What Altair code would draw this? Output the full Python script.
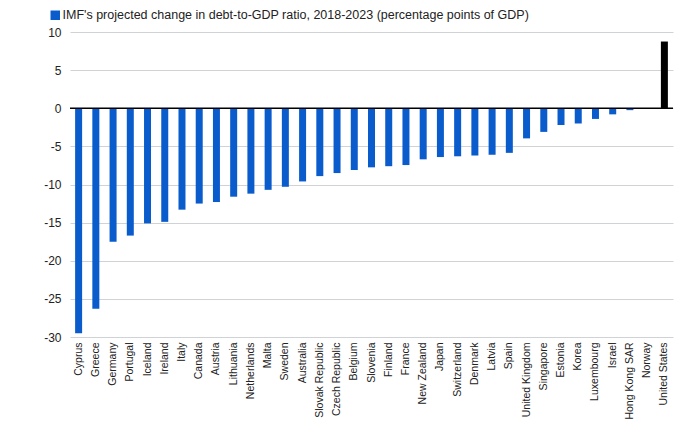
import altair as alt
import pandas as pd

countries = ["Cyprus", "Greece", "Germany", "Portugal", "Iceland", "Ireland", "Italy",
             "Canada", "Austria", "Lithuania", "Netherlands", "Malta", "Sweden",
             "Australia", "Slovak Republic", "Czech Republic", "Belgium", "Slovenia",
             "Finland", "France", "New Zealand", "Japan", "Switzerland", "Denmark",
             "Latvia", "Spain", "United Kingdom", "Singapore", "Estonia", "Korea",
             "Luxembourg", "Israel", "Hong Kong SAR", "Norway", "United States"]
values = [-29.5, -26.3, -17.5, -16.7, -15.1, -14.9, -13.3,
          -12.5, -12.3, -11.6, -11.2, -10.7, -10.3,
          -9.6, -8.9, -8.5, -8.1, -7.75,
          -7.6, -7.45, -6.7, -6.4, -6.3, -6.2,
          -6.1, -5.85, -3.95, -3.1, -2.2, -2.0,
          -1.4, -0.8, -0.25, 0.0, 8.75]
series_label = "IMF's projected change in debt-to-GDP ratio, 2018-2023 (percentage points of GDP)"
y_ticks = [10, 5, 0, -5, -10, -15, -20, -25, -30]

df = pd.DataFrame({
    "country": countries,
    "value": values,
    "series": [series_label if c != "United States" else "US" for c in countries],
})

FONT = "Liberation Sans"

x_enc = alt.X("country:N", sort=countries, title=None,
              scale=alt.Scale(paddingInner=0.54, paddingOuter=0.27),
              axis=alt.Axis(labelAngle=-90, labelFontSize=10.5, labelColor="#222",
                            labelFont=FONT, ticks=False, domain=False, grid=False,
                            labelPadding=5, labelBaseline="middle", labelOverlap=False))
y_axis = alt.Axis(values=y_ticks, labelFontSize=12, labelColor="#222",
                  labelFont=FONT, ticks=False, domain=False,
                  labelExpr="'' + datum.value", labelOverlap=False,
                  gridColor="#d0d3d6", gridWidth=1, labelPadding=9)
y_scale = alt.Scale(domain=[-30, 10], nice=False)

bars = alt.Chart(df).mark_bar(width=7).encode(
    x=x_enc,
    y=alt.Y("value:Q", title=None, scale=y_scale, axis=y_axis),
    color=alt.Color("series:N",
                    scale=alt.Scale(domain=[series_label, "US"], range=["#0a5ccc", "#000000"]),
                    legend=alt.Legend(values=[series_label], title=None, orient="none",
                                      legendX=-21, legendY=-23, symbolType="square",
                                      symbolSize=90, symbolStrokeWidth=0,
                                      labelFontSize=12.5, labelFont=FONT,
                                      labelColor="#222", labelLimit=700,
                                      symbolOffset=0, labelOffset=1, padding=0)),
)

zero = alt.Chart(pd.DataFrame({"value": [0]})).mark_rule(color="#000", strokeWidth=1.5).encode(
    y=alt.Y("value:Q", title=None, scale=y_scale, axis=y_axis)
)

chart = alt.layer(bars, zero).properties(
    width=603, height=305,
    padding={"left": 62, "top": 24, "right": 18, "bottom": 84},
    autosize=alt.AutoSizeParams(type="none"),
    background="white",
).configure_view(stroke=None)

chart.save("out.html", embed_options={"renderer": "svg", "actions": False})
